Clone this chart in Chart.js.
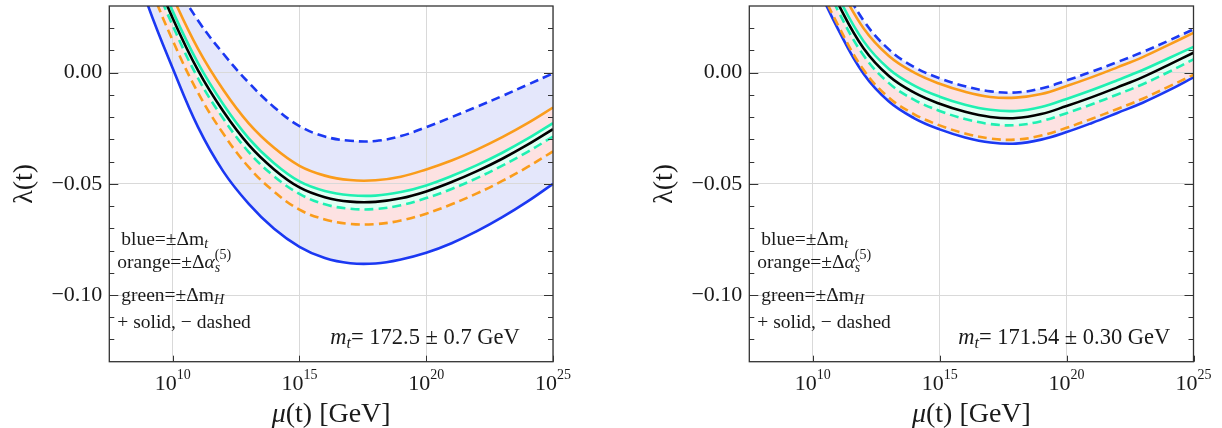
<!DOCTYPE html>
<html>
<head>
<meta charset="utf-8">
<script src="https://cdn.jsdelivr.net/npm/chart.js@4.4.1/dist/chart.umd.min.js"></script>
<style>
  html, body { margin: 0; background: #fff; }
  .panel { position: absolute; top: 0; height: 428px; }
  #leftBox { left: 0; width: 600px; }
  #rightBox { left: 640px; width: 582px; }
</style>
</head>
<body>
<div class="panel" id="leftBox"><canvas id="leftChart"></canvas></div>
<div class="panel" id="rightBox"><canvas id="rightChart"></canvas></div>
<script>
// log10 of mu in GeV
const logMu = [8, 9, 10, 11, 12, 13, 14, 15, 16, 17, 18, 19, 20, 21, 22, 23, 24, 25];

// left panel: m_t = 172.5 +- 0.7 GeV
const leftCentral = [0.082, 0.052, 0.0245, 0.001, -0.0175, -0.0325, -0.0435, -0.0516, -0.056, -0.058, -0.0581, -0.0565, -0.0534, -0.0492, -0.0443, -0.0387, -0.0324, -0.0254];
const leftGreenPlus = [0.086, 0.055, 0.0277, 0.0043, -0.0143, -0.0295, -0.0407, -0.0489, -0.0532, -0.0551, -0.0553, -0.0537, -0.0507, -0.0465, -0.0416, -0.036, -0.0297, -0.0227];
const leftGreenMinus = [0.079, 0.0485, 0.0212, -0.0025, -0.0207, -0.0357, -0.0466, -0.0545, -0.0592, -0.0612, -0.0613, -0.0596, -0.0564, -0.0523, -0.0474, -0.0418, -0.0356, -0.0287];
const leftOrangePlus = [0.092, 0.0617, 0.0342, 0.0107, -0.0078, -0.0228, -0.0338, -0.0419, -0.0463, -0.0483, -0.0484, -0.0468, -0.0435, -0.0395, -0.0346, -0.029, -0.0227, -0.0157];
const leftOrangeMinus = [0.072, 0.042, 0.0145, -0.009, -0.0275, -0.0425, -0.0535, -0.0616, -0.066, -0.068, -0.0681, -0.0665, -0.0634, -0.0592, -0.0543, -0.0487, -0.0424, -0.0354];
const leftBluePlus = [0.066, 0.031, 0.002, -0.0245, -0.0445, -0.059, -0.0702, -0.0783, -0.0834, -0.0857, -0.0858, -0.084, -0.081, -0.0767, -0.0713, -0.065, -0.0579, -0.05];
const leftBlueMinus = [0.098, 0.068, 0.0425, 0.0235, 0.0085, -0.0045, -0.0155, -0.024, -0.0287, -0.0306, -0.0307, -0.0285, -0.0245, -0.02, -0.0153, -0.0105, -0.0054, -0.0003];

// right panel: m_t = 171.54 +- 0.30 GeV
const rightCentral = [0.11, 0.082, 0.055, 0.031, 0.011, -0.0015, -0.009, -0.014, -0.0176, -0.0199, -0.0204, -0.0186, -0.015, -0.011, -0.0066, -0.002, 0.0034, 0.009];
const rightGreenPlus = [0.113, 0.0852, 0.0582, 0.0342, 0.0142, 0.0017, -0.0058, -0.0108, -0.0144, -0.0167, -0.0172, -0.0154, -0.0118, -0.0078, -0.0034, 0.0012, 0.0064, 0.0116];
const rightGreenMinus = [0.107, 0.0788, 0.0518, 0.0278, 0.0078, -0.0047, -0.0122, -0.0172, -0.0208, -0.0231, -0.0236, -0.0218, -0.0182, -0.0142, -0.0098, -0.0052, 0.0002, 0.006];
const rightOrangePlus = [0.119, 0.091, 0.064, 0.04, 0.02, 0.0075, 0, -0.005, -0.0086, -0.0109, -0.0112, -0.0096, -0.006, -0.002, 0.0024, 0.007, 0.0124, 0.0179];
const rightOrangeMinus = [0.1, 0.0723, 0.0453, 0.0213, 0.0013, -0.0112, -0.0187, -0.0237, -0.0273, -0.0296, -0.0301, -0.0283, -0.0248, -0.0207, -0.0163, -0.0117, -0.0064, -0.001];
const rightBluePlus = [0.098, 0.0705, 0.0435, 0.0195, -0.0005, -0.013, -0.0205, -0.0255, -0.0291, -0.0314, -0.0319, -0.0301, -0.0267, -0.0226, -0.0181, -0.0135, -0.0081, -0.0021];
const rightBlueMinus = [0.125, 0.096, 0.0685, 0.0438, 0.0235, 0.0105, 0.0025, -0.0025, -0.0061, -0.0084, -0.0089, -0.0071, -0.0035, 0.0005, 0.0048, 0.0093, 0.0143, 0.0195];

// axes
const xTickExponents = [10, 15, 20, 25];
const yMajorTicks = [-0.1, -0.05, 0];
const yMinorTicks = [-0.12, -0.11, -0.09, -0.08, -0.07, -0.06, -0.04, -0.03, -0.02, -0.01, 0.01, 0.02];

const SERIF = '"Liberation Serif", "Times New Roman", serif';
const TEXT = "#1a1a1a";
const BLUE = "#1b38f2";
const ORANGE = "#fa9c1b";
const GREEN = "#1ff0b2";
const LAVENDER = "#e4e7fb";
const PINK = "#fde2e2";
const MINT = "#e2fff4";
const GRID = "#d9d9d9";

function toPoints(values) {
  return logMu.map((L, i) => ({ x: L, y: values[i] }));
}

function curve(values, color, dashed, fillColor) {
  return {
    data: toPoints(values),
    borderColor: color,
    borderWidth: 2.6,
    borderDash: dashed ? [9, 5] : [],
    pointRadius: 0,
    tension: 0.4,
    fill: fillColor ? "+1" : false,
    backgroundColor: fillColor || "transparent",
  };
}

function drawRuns(ctx, x, y, runs) {
  let cx = x;
  let held = 0;
  for (const r of runs) {
    ctx.font = `${r.italic ? "italic " : ""}${r.size}px ${SERIF}`;
    ctx.fillText(r.t, cx, y + (r.dy || 0));
    const w = ctx.measureText(r.t).width;
    if (r.hold) {
      held = w;
    } else {
      cx += Math.max(w, held);
      held = 0;
    }
  }
}

const legendLines = [
  { dx: 12, y: 245, runs: [{ t: "blue=±Δm", size: 19.5 }, { t: "t", size: 14, italic: true, dy: 3 }] },
  { dx: 8, y: 268, runs: [{ t: "orange=±Δ", size: 19.5 }, { t: "α", size: 19.5, italic: true }, { t: "s", size: 14, italic: true, dy: 4, hold: true }, { t: "(5)", size: 14, dy: -9 }] },
  { dx: 12, y: 301, runs: [{ t: "green=±Δm", size: 19.5 }, { t: "H", size: 14, italic: true, dy: 3 }] },
  { dx: 8, y: 328, runs: [{ t: "+ solid, − dashed", size: 19.5 }] },
];

const decorPlugin = {
  id: "decor",
  afterDraw(chart, args, opts) {
    const { ctx, chartArea: a, scales } = chart;
    const x = scales.x;
    const y = scales.y;
    ctx.save();

    // inward ticks
    ctx.strokeStyle = "#333";
    ctx.lineWidth = 1;
    const tick = (x1, y1, x2, y2) => {
      ctx.beginPath();
      ctx.moveTo(x1, y1);
      ctx.lineTo(x2, y2);
      ctx.stroke();
    };
    yMinorTicks.forEach((v) => {
      const py = Math.round(y.getPixelForValue(v)) + 0.5;
      tick(a.left, py, a.left + 5, py);
      tick(a.right - 5, py, a.right, py);
    });
    yMajorTicks.forEach((v) => {
      const py = Math.round(y.getPixelForValue(v)) + 0.5;
      tick(a.left, py, a.left + 9, py);
      tick(a.right - 9, py, a.right, py);
    });
    xTickExponents.forEach((e) => {
      const px = Math.round(x.getPixelForValue(e)) + 0.5;
      tick(px, a.bottom, px, a.bottom - 6);
    });

    // frame
    ctx.lineWidth = 1.3;
    ctx.strokeRect(a.left, a.top, a.right - a.left, a.bottom - a.top);

    ctx.fillStyle = TEXT;
    ctx.textBaseline = "alphabetic";
    ctx.textAlign = "left";

    // x tick labels 10^n
    xTickExponents.forEach((e) => {
      const px = x.getPixelForValue(e);
      ctx.font = `22px ${SERIF}`;
      const wb = ctx.measureText("10").width;
      ctx.font = `14px ${SERIF}`;
      const we = ctx.measureText(String(e)).width;
      const start = px - (wb + we) / 2;
      ctx.font = `22px ${SERIF}`;
      ctx.fillText("10", start, 390);
      ctx.font = `14px ${SERIF}`;
      ctx.fillText(String(e), start + wb, 379);
    });

    // x title
    const titleRuns = [{ t: "μ", size: 28, italic: true }, { t: "(t) [GeV]", size: 28 }];
    let tw = 0;
    titleRuns.forEach((r) => {
      ctx.font = `${r.italic ? "italic " : ""}${r.size}px ${SERIF}`;
      tw += ctx.measureText(r.t).width;
    });
    drawRuns(ctx, (a.left + a.right) / 2 - tw / 2, 422, titleRuns);

    // legend text
    legendLines.forEach((l) => drawRuns(ctx, a.left + l.dx, l.y, l.runs));

    // top mass label
    drawRuns(ctx, a.left + opts.massDx, 344, opts.mass);

    ctx.restore();
  },
};

function fmtTick(v) {
  if (Math.abs(v) < 1e-9) return "0.00";
  return (v < 0 ? "\u2212" : "") + Math.abs(v).toFixed(2);
}

function makeChart(canvasId, series, padRight, mass, massDx) {
  return new Chart(document.getElementById(canvasId), {
    type: "line",
    data: {
      datasets: [
        curve(series[0], "#000", false),
        curve(series[1], GREEN, false, MINT),
        curve(series[2], GREEN, true),
        curve(series[3], ORANGE, false, PINK),
        curve(series[4], ORANGE, true),
        curve(series[5], BLUE, false, LAVENDER),
        curve(series[6], BLUE, true),
      ],
    },
    options: {
      responsive: true,
      maintainAspectRatio: false,
      animation: false,
      layout: { padding: { top: 6, right: padRight, bottom: 0, left: 0 } },
      plugins: {
        legend: { display: false },
        tooltip: { enabled: false },
        filler: { drawTime: "beforeDraw" },
        decor: { mass, massDx },
      },
      scales: {
        x: {
          type: "linear",
          min: 7.5,
          max: 25,
          afterBuildTicks: (s) => {
            s.ticks = xTickExponents.map((v) => ({ value: v }));
          },
          afterFit: (s) => {
            s.height = 66.3;
            s.paddingLeft = 0;
            s.paddingRight = 0;
          },
          ticks: { display: false },
          grid: { color: GRID, drawTicks: false },
          border: { display: false },
        },
        y: {
          min: -0.13,
          max: 0.03,
          afterBuildTicks: (s) => {
            s.ticks = yMajorTicks.map((v) => ({ value: v }));
          },
          afterFit: (s) => {
            s.width = 109.3;
            s.paddingTop = 0;
            s.paddingBottom = 0;
          },
          ticks: {
            font: { family: SERIF, size: 22 },
            color: TEXT,
            padding: 7,
            callback: (v) => fmtTick(v),
          },
          grid: { color: GRID, drawTicks: false },
          border: { display: false },
          title: {
            display: true,
            text: "λ(t)",
            color: TEXT,
            font: { family: SERIF, size: 28 },
            padding: { top: 8, bottom: 0 },
          },
        },
      },
    },
    plugins: [decorPlugin],
  });
}

makeChart(
  "leftChart",
  [leftCentral, leftGreenPlus, leftGreenMinus, leftOrangePlus, leftOrangeMinus, leftBluePlus, leftBlueMinus],
  47,
  [{ t: "m", size: 22.5, italic: true }, { t: "t", size: 16, italic: true, dy: 4 }, { t: "= 172.5 ± 0.7 GeV", size: 22.5 }],
  221
);

makeChart(
  "rightChart",
  [rightCentral, rightGreenPlus, rightGreenMinus, rightOrangePlus, rightOrangeMinus, rightBluePlus, rightBlueMinus],
  28.5,
  [{ t: "m", size: 22.5, italic: true }, { t: "t", size: 16, italic: true, dy: 4 }, { t: "= 171.54 ± 0.30 GeV", size: 22.5 }],
  209
);
</script>
</body>
</html>
